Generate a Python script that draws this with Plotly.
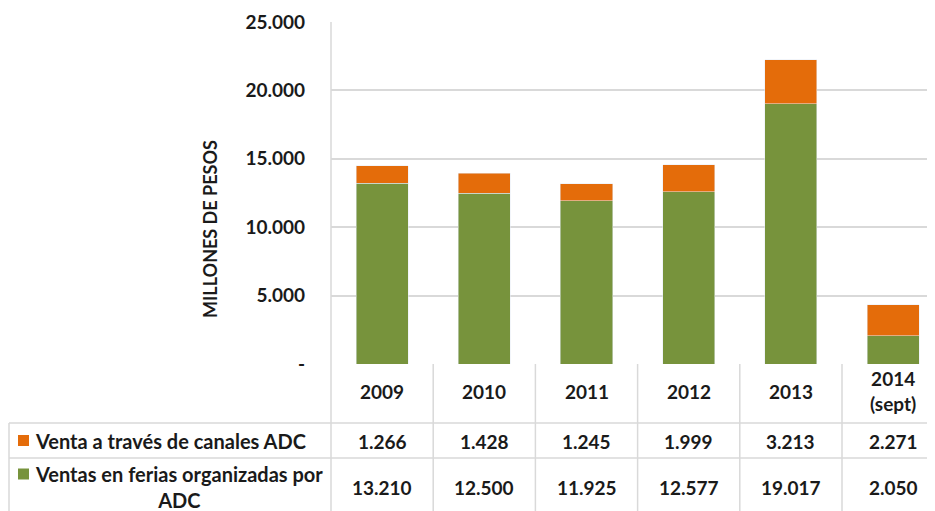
import plotly.graph_objects as go

categories = ["2009", "2010", "2011", "2012", "2013", "2014\n(sept)"]
canales = [1266, 1428, 1245, 1999, 3213, 2271]
ferias = [13210, 12500, 11925, 12577, 19017, 2050]
series_names = ["Venta a través de canales ADC", "Ventas en ferias organizadas por\nADC"]
ytick_vals = [0, 5000, 10000, 15000, 20000, 25000]
ytick_text = ["-", "5.000", "10.000", "15.000", "20.000", "25.000"]

ORANGE = "#E46C0A"
GREEN = "#77933C"
GRID = "#D9D9D9"
FONT = "Lato"
TXT = "#1a1a1a"

OFF = 8  # page body margin
W, H = 935 - OFF, 511 - OFF
L, R, T, B = 331 - OFF, 0, 22 - OFF, 147
PH = H - T - B
PW = W - L - R


def py(p):
    # p: screen pixel y
    return (H - B - (p - OFF)) / PH


def px(p):
    return (p - OFF - L) / PW


def fmt(v):
    return f"{v:,}".replace(",", ".")


xs = list(range(len(categories)))
fig = go.Figure()
fig.add_bar(x=xs, y=ferias, marker_color=GREEN, width=0.51, name=series_names[1])
fig.add_bar(x=xs, y=canales, marker_color=ORANGE, width=0.51, name=series_names[0])

shapes = []
annotations = []
LW = 1.5
shapes.append(dict(type="line", xref="paper", yref="paper", x0=0, x1=0, y0=py(515), y1=1,
                   line=dict(color=GRID, width=LW)))
for i in range(len(categories)):
    shapes.append(dict(type="line", xref="x", yref="paper", x0=i + 0.5, x1=i + 0.5,
                       y0=py(515), y1=py(364), line=dict(color=GRID, width=LW)))
for yy in (423, 458):
    shapes.append(dict(type="line", xref="paper", yref="paper", x0=px(9), x1=1.05,
                       y0=py(yy), y1=py(yy), line=dict(color=GRID, width=LW)))
shapes.append(dict(type="line", xref="paper", yref="paper", x0=px(9), x1=px(9),
                   y0=py(515), y1=py(423), line=dict(color=GRID, width=LW)))
for col, yc in ((ORANGE, 440.5), (GREEN, 474)):
    shapes.append(dict(type="rect", xref="paper", yref="paper", x0=px(18), x1=px(29),
                       y0=py(yc + 5.5), y1=py(yc - 5.5), fillcolor=col, line=dict(width=0)))

nf = dict(family=FONT, size=19, color=TXT, weight="bold")
lf = dict(family=FONT, size=20, color=TXT, weight="bold")
for i, c in enumerate(categories):
    annotations.append(dict(x=i, y=py(391), xref="x", yref="paper", text=c.replace("\n", "<br>"),
                            showarrow=False, font=nf, xanchor="center", yanchor="middle"))
    annotations.append(dict(x=i, y=py(441), xref="x", yref="paper", text=fmt(canales[i]),
                            showarrow=False, font=nf, xanchor="center", yanchor="middle"))
    annotations.append(dict(x=i, y=py(487), xref="x", yref="paper", text=fmt(ferias[i]),
                            showarrow=False, font=nf, xanchor="center", yanchor="middle"))

annotations.append(dict(x=px(33), y=py(441), xref="paper", yref="paper", text=series_names[0],
                        showarrow=False, font=lf, xanchor="left", yanchor="middle"))
annotations.append(dict(x=px(179), y=py(487), xref="paper", yref="paper",
                        text=series_names[1].replace("\n", "<br>"), align="center",
                        showarrow=False, font=lf, xanchor="center", yanchor="middle"))
annotations.append(dict(x=px(210), y=py(229), xref="paper", yref="paper", text="MILLONES DE PESOS",
                        textangle=-90, showarrow=False, font=dict(family=FONT, size=18, color=TXT, weight="bold"),
                        xanchor="center", yanchor="middle"))

fig.update_layout(
    width=W, height=H,
    margin=dict(l=L, r=R, t=T, b=B, pad=0),
    barmode="stack", showlegend=False,
    paper_bgcolor="white", plot_bgcolor="white",
    shapes=shapes, annotations=annotations,
    xaxis=dict(range=[-0.5, 5.41], showticklabels=False, showgrid=False, zeroline=False,
               showline=False, fixedrange=True),
    yaxis=dict(range=[0, 25000], tickvals=ytick_vals, ticktext=ytick_text, showgrid=True,
               gridcolor=GRID, gridwidth=LW, zeroline=False, showline=False,
               ticklabelstandoff=25, tickfont=dict(family=FONT, size=19, color=TXT, weight="bold")),
)
fig.write_html("out.html")
